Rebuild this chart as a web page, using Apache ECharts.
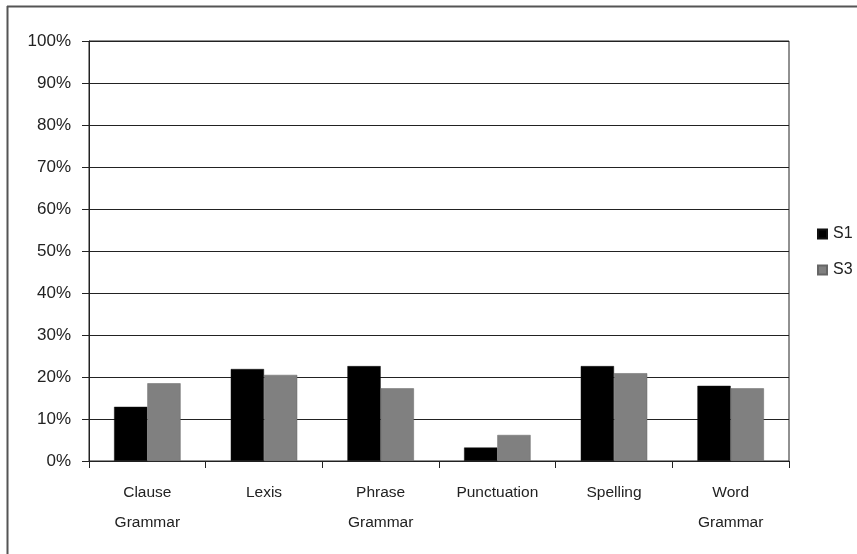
<!DOCTYPE html>
<html>
<head>
<meta charset="utf-8">
<script src="https://cdn.jsdelivr.net/npm/echarts@6/dist/echarts.min.js"></script>
<style>
  html, body { margin: 0; padding: 0; background: #fff; }
  #chart { width: 857px; height: 554px; }
</style>
</head>
<body>
<div id="chart"></div>
<script>
// Error categories and the share of errors (%) in each sample
const categories = ['Clause\nGrammar', 'Lexis', 'Phrase\nGrammar', 'Punctuation', 'Spelling', 'Word\nGrammar'];
const s1Values = [12.9, 21.9, 22.6, 3.2, 22.6, 17.9];
const s3Values = [18.5, 20.5, 17.3, 6.2, 20.9, 17.3];
const yTicks = { min: 0, max: 100, interval: 10 };

const font = 'Liberation Sans, Arial, sans-serif';
const chart = echarts.init(document.getElementById('chart'), null, { renderer: 'canvas' });

chart.setOption({
  backgroundColor: '#fff',
  animation: false,
  graphic: [
    { type: 'line', shape: { x1: 7, y1: 6.5, x2: 857, y2: 6.5 }, style: { stroke: '#555', lineWidth: 2 } },
    { type: 'line', shape: { x1: 7.5, y1: 6, x2: 7.5, y2: 554 }, style: { stroke: '#555', lineWidth: 2 } }
  ],
  grid: {
    left: 89, right: 68, top: 41, bottom: 93,
    show: true, borderColor: '#222', borderWidth: 1, backgroundColor: 'transparent'
  },
  legend: {
    orient: 'vertical',
    left: 812, top: 221,
    itemWidth: 9, itemHeight: 9, itemGap: 20,
    icon: 'rect',
    textStyle: { fontFamily: font, fontSize: 16, color: '#222', padding: [0, 0, 0, 1] },
    data: ['S1', 'S3']
  },
  xAxis: {
    type: 'category',
    data: categories,
    boundaryGap: true,
    axisLine: { lineStyle: { color: '#222', width: 1 } },
    axisTick: { show: true, length: 7, lineStyle: { color: '#222' } },
    axisLabel: { fontFamily: font, fontSize: 15.5, color: '#222', margin: 17, lineHeight: 30, interval: 0 },
    splitLine: { show: false }
  },
  yAxis: {
    type: 'value',
    min: yTicks.min, max: yTicks.max, interval: yTicks.interval,
    axisLine: { show: true, lineStyle: { color: '#222', width: 1 } },
    axisTick: { show: true, length: 7, lineStyle: { color: '#222' } },
    axisLabel: { fontFamily: font, fontSize: 17, color: '#222', margin: 18, formatter: '{value}%' },
    splitLine: { show: true, lineStyle: { color: '#222', width: 1 } }
  },
  series: [
    {
      name: 'S1', type: 'bar', data: s1Values,
      barGap: '0%', barCategoryGap: '43%',
      itemStyle: { color: '#000', borderColor: '#111', borderWidth: 0.5 }
    },
    {
      name: 'S3', type: 'bar', data: s3Values,
      itemStyle: { color: '#808080', borderColor: '#666', borderWidth: 0.5 }
    }
  ]
});
</script>
</body>
</html>
